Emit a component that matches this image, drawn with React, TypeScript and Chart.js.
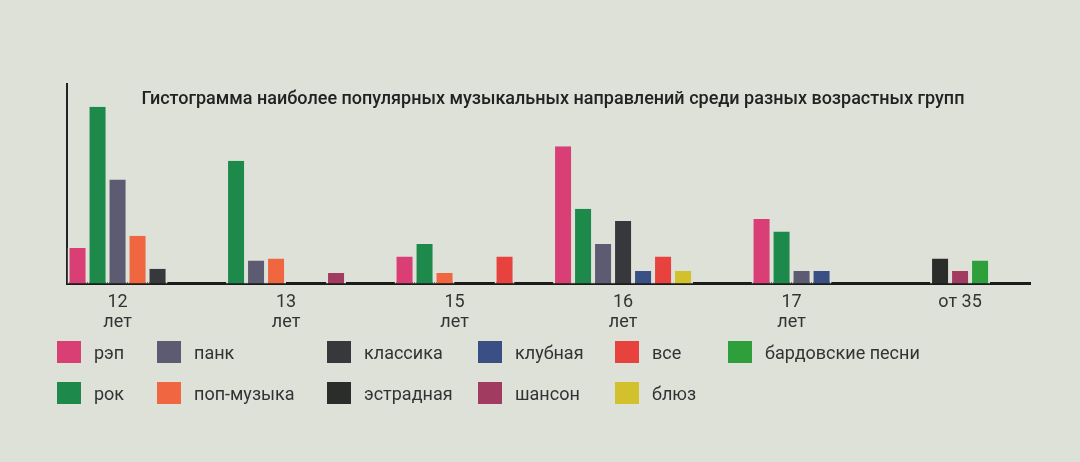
import { useEffect, useRef } from "react"
import { Chart, registerables } from "chart.js"

Chart.register(...registerables)

const title =
  "Гистограмма наиболее популярных музыкальных направлений среди разных возрастных групп"

// age groups, each label split in two lines under the axis
const categories = ["12 лет", "13 лет", "15 лет", "16 лет", "17 лет", "от 35"]
const tickLines = [["12", "лет"], ["13", "лет"], ["15", "лет"], ["16", "лет"], ["17", "лет"], ["от 35"]]

// one value per age group; null = genre not named by that group
const rap = [17, null, 13, 66, 31, null]
const rock = [85, 59, 19, 36, 25, null]
const punk = [50, 11, null, 19, 6, null]
const pop = [23, 12, 5, null, null, null]
const classic = [7, 0, 0, 30, null, null]
const estrada = [null, 0, 0, null, null, 12]
const club = [null, null, null, 6, 6, null]
const chanson = [null, 5, null, null, null, 6]
const all = [null, null, 13, 13, null, null]
const blues = [null, null, null, 6, null, null]
const bard = [null, null, null, null, null, 11]

const series = [
  { name: "рэп", values: rap, color: "#d93f74" },
  { name: "рок", values: rock, color: "#1d8a4c" },
  { name: "панк", values: punk, color: "#5d5b72" },
  { name: "поп-музыка", values: pop, color: "#ef6640" },
  { name: "классика", values: classic, color: "#36383b" },
  { name: "эстрадная", values: estrada, color: "#2a2d2a" },
  { name: "клубная", values: club, color: "#3a5084" },
  { name: "шансон", values: chanson, color: "#a23b60" },
  { name: "все", values: all, color: "#e8423f" },
  { name: "блюз", values: blues, color: "#d2c12c" },
  { name: "бардовские песни", values: bard, color: "#2f9f3c" },
]

const paper = "#dde1d8"
const legendCols = [57, 157, 327, 478, 615, 728]

export default function App() {
  const canvasRef = useRef<HTMLCanvasElement | null>(null)
  const chartRef = useRef<Chart | null>(null)

  useEffect(() => {
    document.body.style.margin = "0"
    if (!canvasRef.current) return
    if (chartRef.current) chartRef.current.destroy()

    const titlePlugin = {
      id: "innerTitle",
      afterDraw(chart: Chart) {
        const { ctx, chartArea } = chart
        ctx.save()
        ctx.font = "500 18px Roboto"
        ctx.fillStyle = "#222"
        ctx.textAlign = "center"
        ctx.textBaseline = "middle"
        ctx.fillText(title, 553, chartArea.top + 15)
        ctx.restore()
      },
    }

    chartRef.current = new Chart(canvasRef.current, {
      type: "bar",
      data: {
        datasets: series.map((s) => ({
          label: s.name,
          data: s.values.map((v, i) => ({ x: i, y: v })),
          backgroundColor: s.color,
          borderColor: paper,
          borderWidth: { left: 2, right: 2, top: 0, bottom: 0 },
          borderSkipped: "bottom",
          barThickness: 20,
          skipNull: true,
          inflateAmount: 0,
          clip: false,
        })),
      } as any,
      options: {
        animation: false,
        responsive: true,
        maintainAspectRatio: false,
        layout: { padding: { left: 59, right: 50, top: 84, bottom: 10 } },
        plugins: {
          legend: { display: false },
          tooltip: { enabled: false },
        },
        scales: {
          x: {
            type: "linear",
            min: -0.3,
            max: 5.415,
            offset: false,
            z: 1,
            grid: { display: false },
            border: { display: true, color: "#1b1b1b", width: 3 },
            afterBuildTicks: (scale: any) => {
              scale.ticks = categories.map((_, i) => ({ value: i }))
            },
            ticks: {
              autoSkip: false,
              maxRotation: 0,
              padding: 1,
              color: "#333",
              font: { family: "Roboto", size: 18, lineHeight: 1.1 },
              callback: (v: any) => tickLines[v] ?? "",
            },
          },
          y: {
            min: 0,
            max: 96,
            z: 1,
            grid: { display: false },
            border: { display: true, color: "#222", width: 2 },
            ticks: { display: false },
          },
        },
      },
      plugins: [titlePlugin],
    })

    return () => {
      if (chartRef.current) {
        chartRef.current.destroy()
        chartRef.current = null
      }
    }
  }, [])

  return (
    <div style={{ position: "relative", width: 1080, height: 462, background: paper, fontFamily: "Roboto" }}>
      <div style={{ position: "absolute", left: 0, top: 0, width: 1080, height: 343 }}>
        <canvas ref={canvasRef} />
      </div>
      {series.map((s, i) => (
        <div
          key={s.name}
          style={{
            position: "absolute",
            left: legendCols[Math.floor(i / 2)],
            top: i % 2 === 0 ? 341 : 382,
            display: "flex",
            alignItems: "center",
            fontSize: 18,
            color: "#333",
          }}
        >
          <span style={{ width: 24, height: 22, background: s.color, marginRight: 13 }} />
          <span>{s.name}</span>
        </div>
      ))}
    </div>
  )
}
